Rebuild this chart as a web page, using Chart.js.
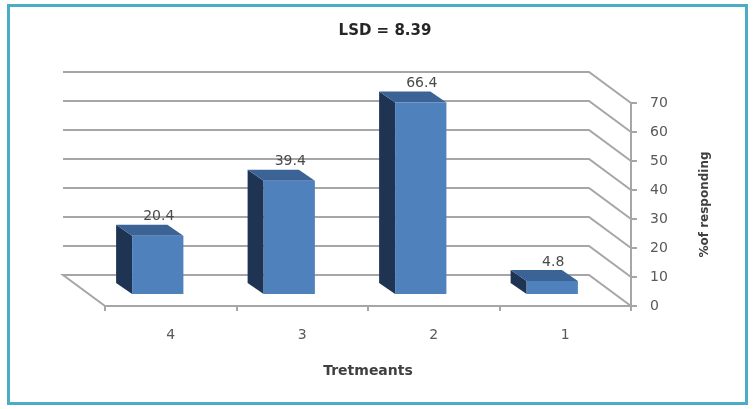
<!DOCTYPE html>
<html>
<head>
<meta charset="utf-8">
<script src="https://cdn.jsdelivr.net/npm/chart.js@4.4.1/dist/chart.umd.min.js"></script>
<style>
  html, body { margin: 0; padding: 0; background: #fff; }
  #wrap { position: relative; width: 755px; height: 409px; }
  #frame {
    position: absolute; left: 7px; top: 4px; width: 741px; height: 401px;
    box-sizing: border-box; border: 3px solid #4BACC6; pointer-events: none;
  }
  canvas { display: block; }
</style>
</head>
<body>
<div id="wrap">
  <canvas id="chart" width="755" height="409"></canvas>
  <div id="frame"></div>
</div>
<script>
/* ---- data ---- */
const categories = ["4", "3", "2", "1"];
const responding = [20.4, 39.4, 66.4, 4.8];
const yTicks = [0, 10, 20, 30, 40, 50, 60, 70];
const chartTitle = "LSD = 8.39";
const xTitle = "Tretmeants";
const yTitle = "%of responding";

/* ---- fake 3D ---- */
const DEPTH = { x: -42, y: -31 };     // floor depth, front plane -> back wall
const BAR_FRONT = { x: -13, y: -11 }; // bar front face pushed into the depth
const BAR_SIDE = { x: -16, y: -11 };  // depth of the bar box itself
const GRID = "#A6A6A6";
const FONT = '"DejaVu Sans", sans-serif';

const box3d = {
  id: "box3d",
  beforeDatasetsDraw(chart) {
    const { ctx, chartArea: a, scales: { y } } = chart;
    // back wall gridlines + right wall diagonals + left floor edge
    ctx.save();
    ctx.strokeStyle = GRID;
    ctx.lineWidth = 2;
    yTicks.forEach(v => {
      const py = y.getPixelForValue(v);
      ctx.beginPath();
      if (v === 0) {
        ctx.moveTo(a.left, py);
        ctx.lineTo(a.left + DEPTH.x, py + DEPTH.y);
      } else {
        ctx.moveTo(a.left + DEPTH.x, py + DEPTH.y);
      }
      ctx.lineTo(a.right + DEPTH.x, py + DEPTH.y);
      ctx.lineTo(a.right, py);
      ctx.stroke();
    });
    ctx.restore();

    // shift bars into depth; draw side + top faces, Chart.js draws the front
    const sx = BAR_SIDE.x, sy = BAR_SIDE.y;
    ctx.save();
    ctx.translate(BAR_FRONT.x, BAR_FRONT.y);
    chart.getDatasetMeta(0).data.forEach(bar => {
      const x0 = bar.x - bar.width / 2, x1 = bar.x + bar.width / 2;
      ctx.fillStyle = "#1F3452";
      ctx.beginPath();
      ctx.moveTo(x0, bar.base);
      ctx.lineTo(x0, bar.y);
      ctx.lineTo(x0 + sx, bar.y + sy);
      ctx.lineTo(x0 + sx, bar.base + sy);
      ctx.closePath();
      ctx.fill();
      ctx.fillStyle = "#3C6396";
      ctx.beginPath();
      ctx.moveTo(x0, bar.y);
      ctx.lineTo(x1, bar.y);
      ctx.lineTo(x1 + sx, bar.y + sy);
      ctx.lineTo(x0 + sx, bar.y + sy);
      ctx.closePath();
      ctx.fill();
    });
  },
  afterDatasetsDraw(chart) {
    const { ctx } = chart;
    ctx.restore();
    ctx.save();
    ctx.font = "14px " + FONT;
    ctx.fillStyle = "#4A4A4A";
    ctx.textAlign = "center";
    ctx.textBaseline = "middle";
    chart.getDatasetMeta(0).data.forEach((bar, i) => {
      ctx.fillText(String(responding[i]), bar.x + BAR_FRONT.x + 1, bar.y + BAR_FRONT.y + BAR_SIDE.y - 8);
    });
    ctx.restore();
  },
  afterDraw(chart) {
    // value-axis title, reads bottom to top
    const { ctx, chartArea: a } = chart;
    ctx.save();
    ctx.translate(a.right + 74, (a.top + a.bottom) / 2);
    ctx.rotate(-Math.PI / 2);
    ctx.font = "bold 12px " + FONT;
    ctx.fillStyle = "#404040";
    ctx.textAlign = "center";
    ctx.textBaseline = "middle";
    ctx.fillText(yTitle, 0, 0);
    ctx.restore();
  },
};

Chart.defaults.font.family = FONT;
Chart.defaults.color = "#595959";

new Chart(document.getElementById("chart"), {
  type: "bar",
  data: {
    labels: categories,
    datasets: [{
      data: responding,
      backgroundColor: "#4F81BD",
      borderWidth: 0,
      categoryPercentage: 1,
      barPercentage: 0.39,
      clip: false,
    }],
  },
  options: {
    responsive: false,
    animation: false,
    events: [],
    layout: { padding: { left: 65, right: 50, top: 0, bottom: 9 } },
    plugins: {
      legend: { display: false },
      tooltip: { enabled: false },
      title: {
        display: true, text: chartTitle, color: "#262626",
        font: { size: 15, weight: "bold" },
        padding: { top: 22, bottom: 63 },
      },
    },
    scales: {
      x: {
        grid: { drawOnChartArea: false, tickLength: 5, color: GRID, lineWidth: 2 },
        border: { color: GRID, width: 2 },
        ticks: { padding: 16, font: { size: 14 } },
        title: {
          display: true, text: xTitle, color: "#404040",
          font: { size: 14, weight: "bold" },
          padding: { top: 0, bottom: 20 },
        },
        afterFit(s) { s.height = 94; },
      },
      y: {
        position: "right",
        min: 0, max: 70,
        ticks: { stepSize: 10, padding: 13, font: { size: 14 } },
        grid: { drawOnChartArea: false, tickLength: 6, color: GRID, lineWidth: 2 },
        border: { color: GRID, width: 2 },
        afterFit(s) { s.width = 74; },
      },
      // empty spacer on the left so the chart title stays centred like the original
      yl: {
        position: "left",
        grid: { display: false },
        border: { display: false },
        ticks: { display: false },
        afterFit(s) { s.width = 40; },
      },
    },
  },
  plugins: [box3d],
});
</script>
</body>
</html>
